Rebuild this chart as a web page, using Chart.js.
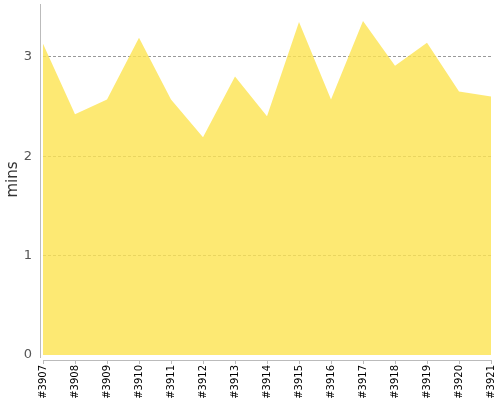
<!DOCTYPE html>
<html>
<head>
<meta charset="utf-8">
<script src="https://cdn.jsdelivr.net/npm/chart.js@4/dist/chart.umd.min.js"></script>
<style>
  html, body { margin: 0; padding: 0; background: #fff; }
  #wrap { width: 500px; height: 400px; position: relative; }
</style>
</head>
<body>
<div id="wrap"><canvas id="c" width="500" height="400"></canvas></div>
<script>
const categories = ['#3907','#3908','#3909','#3910','#3911','#3912','#3913','#3914','#3915','#3916','#3917','#3918','#3919','#3920','#3921'];
const minsValues = [3.13, 2.42, 2.57, 3.19, 2.57, 2.19, 2.80, 2.40, 3.35, 2.57, 3.36, 2.91, 3.14, 2.65, 2.60];
const yTickValues = [0, 1, 2, 3];
const yAxisMax = 3.53;
const yAxisTitle = 'mins';

const axisLines = {
  id: 'axisLines',
  afterDraw(chart) {
    const ctx = chart.ctx;
    const a = chart.chartArea;
    const xs = chart.scales.x;
    ctx.save();
    ctx.strokeStyle = '#bbbbbb';
    ctx.lineWidth = 1;
    ctx.beginPath();
    ctx.moveTo(40.5, a.top);
    ctx.lineTo(40.5, a.bottom + 3);
    ctx.moveTo(a.left, a.bottom + 5.5);
    ctx.lineTo(a.right, a.bottom + 5.5);
    for (let i = 0; i < categories.length; i++) {
      const px = Math.round(xs.getPixelForTick(i)) + 0.5;
      ctx.moveTo(px, a.bottom + 5);
      ctx.lineTo(px, a.bottom + 9);
    }
    ctx.stroke();
    ctx.restore();
  }
};

function zeroPad(scale) {
  scale.paddingTop = 0;
  scale.paddingBottom = 0;
  scale.paddingLeft = 0;
  scale.paddingRight = 0;
}

new Chart(document.getElementById('c'), {
  type: 'line',
  data: {
    labels: categories,
    datasets: [{
      label: yAxisTitle,
      data: minsValues,
      fill: 'origin',
      backgroundColor: 'rgba(252, 227, 80, 0.8)',
      borderWidth: 0,
      borderColor: 'rgba(0,0,0,0)',
      pointRadius: 0,
      tension: 0
    }]
  },
  options: {
    responsive: false,
    animation: false,
    layout: { padding: { top: 4, right: 9, left: 0, bottom: 0 } },
    plugins: { legend: { display: false }, tooltip: { enabled: false } },
    scales: {
      x: {
        type: 'category',
        offset: false,
        grid: { display: false, drawTicks: false },
        border: { display: false },
        ticks: {
          autoSkip: false,
          maxRotation: 90,
          minRotation: 90,
          padding: 10,
          color: '#000',
          font: { family: 'DejaVu Sans', size: 10 }
        },
        afterFit(scale) { scale.height = 45; zeroPad(scale); }
      },
      y: {
        min: 0,
        max: yAxisMax,
        afterBuildTicks(scale) { scale.ticks = yTickValues.map(v => ({ value: v })); },
        grid: {
          color: (c) => (c.tick && c.tick.value === 0) ? 'rgba(0,0,0,0)' : '#999999',
          lineWidth: 1,
          drawTicks: false
        },
        border: { display: false, dash: [3, 2] },
        ticks: {
          padding: 11,
          color: '#555555',
          font: { family: 'DejaVu Sans', size: 13 }
        },
        title: {
          display: true,
          text: yAxisTitle,
          color: '#333333',
          font: { family: 'DejaVu Sans', size: 15 }
        },
        afterFit(scale) { scale.width = 43; zeroPad(scale); }
      }
    }
  },
  plugins: [axisLines]
});
</script>
</body>
</html>
